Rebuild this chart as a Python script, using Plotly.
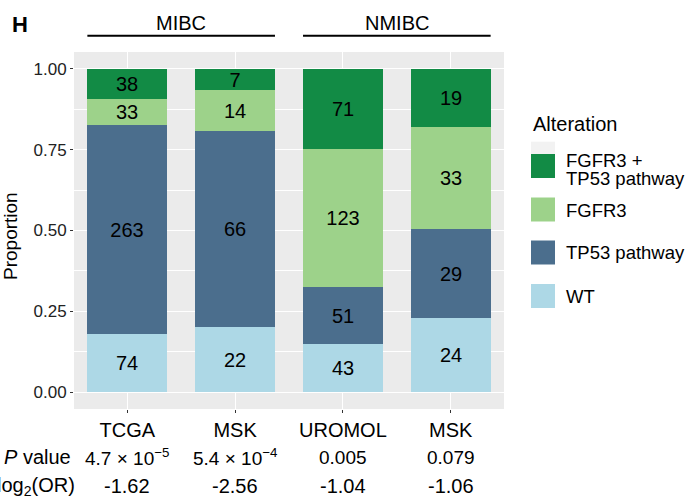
import plotly.graph_objects as go

# Cohorts (x axis) and the disease group each belongs to
cohorts = ["TCGA", "MSK", "UROMOL", "MSK"]
groups = ["MIBC", "NMIBC"]
group_members = [[0, 1], [2, 3]]

# Patient counts per alteration class, stacked bottom to top
alterations = ["WT", "TP53 pathway", "FGFR3", "FGFR3 + TP53 pathway"]
wt = [74, 22, 43, 24]
tp53 = [263, 66, 51, 29]
fgfr3 = [33, 14, 123, 33]
both = [38, 7, 71, 19]

# Association statistics shown beneath each cohort
p_values = ["4.7 × 10<sup>−5</sup>", "5.4 × 10<sup>−4</sup>", "0.005", "0.079"]
log2_or = ["-1.62", "-2.56", "-1.04", "-1.06"]

y_ticks = [0, 0.25, 0.5, 0.75, 1.0]
y_ticktext = ["0.00", "0.25", "0.50", "0.75", "1.00"]

colors = {
    "WT": "#ADD8E6",
    "TP53 pathway": "#4B6E8D",
    "FGFR3": "#9DD28A",
    "FGFR3 + TP53 pathway": "#128B45",
}

FONT = "Liberation Sans, Arial, Helvetica, sans-serif"
W, H = 685, 500
ML, MR, MT, MB = 74, 181, 52, 91
PW, PH = W - ML - MR, H - MT - MB


def px(x):
    return (x - ML) / PW


def py(y):
    return (H - MB - y) / PH


series = {"WT": wt, "TP53 pathway": tp53, "FGFR3": fgfr3, "FGFR3 + TP53 pathway": both}
totals = [sum(v) for v in zip(wt, tp53, fgfr3, both)]
xpos = list(range(len(cohorts)))
BAR_W = 0.74

fig = go.Figure()
for name in alterations:
    counts = series[name]
    fig.add_trace(go.Bar(
        x=xpos,
        y=[c / t for c, t in zip(counts, totals)],
        text=[str(c) for c in counts],
        width=BAR_W,
        name=name,
        marker=dict(color=colors[name], line=dict(width=0)),
        textposition="inside",
        insidetextanchor="middle",
        textangle=0,
        textfont=dict(family=FONT, size=20, color="black"),
        constraintext="none",
        cliponaxis=False,
        showlegend=False,
        hoverinfo="skip",
    ))

annotations = []
shapes = []

# Panel tag and group headers with bracket lines over the bars
annotations.append(dict(text="<b>H</b>", x=px(10), y=py(24), xref="paper", yref="paper",
                        xanchor="left", yanchor="middle", showarrow=False,
                        font=dict(family=FONT, size=22, color="black")))
for g, members in zip(groups, group_members):
    x0 = min(members) - BAR_W / 2
    x1 = max(members) + BAR_W / 2
    shapes.append(dict(type="line", xref="x", yref="paper", x0=x0, x1=x1,
                       y0=py(35.7), y1=py(35.7), line=dict(color="black", width=2)))
    annotations.append(dict(text=g, x=(x0 + x1) / 2, y=py(22.7), xref="x", yref="paper",
                            xanchor="center", yanchor="middle", showarrow=False,
                            font=dict(family=FONT, size=20, color="black")))

# Y axis title
annotations.append(dict(text="Proportion", x=px(11), y=py(236), xref="paper", yref="paper",
                        textangle=-90, xanchor="center", yanchor="middle", showarrow=False,
                        font=dict(family=FONT, size=19, color="black")))

# Statistics rows under the cohort labels
ROW_P, ROW_OR = 457, 486
annotations.append(dict(text="<i>P</i> value", x=px(73), y=py(ROW_P), xref="paper", yref="paper",
                        xanchor="right", yanchor="middle", showarrow=False,
                        font=dict(family=FONT, size=20, color="black")))
annotations.append(dict(text="log<sub>2</sub>(OR)", x=px(77), y=py(ROW_OR), xref="paper", yref="paper",
                        xanchor="right", yanchor="middle", showarrow=False,
                        font=dict(family=FONT, size=20, color="black")))
for i in xpos:
    annotations.append(dict(text=p_values[i], x=i, y=py(ROW_P), xref="x", yref="paper",
                            xanchor="center", yanchor="middle", showarrow=False,
                            font=dict(family=FONT, size=19, color="black")))
    annotations.append(dict(text=log2_or[i], x=i, y=py(ROW_OR), xref="x", yref="paper",
                            xanchor="center", yanchor="middle", showarrow=False,
                            font=dict(family=FONT, size=20, color="black")))

# Legend drawn as keys and labels to the right of the panel
annotations.append(dict(text="Alteration", x=px(531), y=py(124), xref="paper", yref="paper",
                        xanchor="left", yanchor="middle", showarrow=False,
                        font=dict(family=FONT, size=20, color="black")))
shapes.append(dict(type="rect", xref="paper", yref="paper", x0=px(531), x1=px(555),
                   y0=py(154), y1=py(141.7), fillcolor="#F2F2F2", line=dict(width=0)))
legend_items = [
    ("FGFR3 + TP53 pathway", 154, ["FGFR3 +", "TP53 pathway"], [160, 178]),
    ("FGFR3", 197.5, ["FGFR3"], [210]),
    ("TP53 pathway", 240.5, ["TP53 pathway"], [252]),
    ("WT", 284, ["WT"], [296]),
]
for name, top, lines, ys in legend_items:
    shapes.append(dict(type="rect", xref="paper", yref="paper", x0=px(531), x1=px(555),
                       y0=py(top + 24), y1=py(top), fillcolor=colors[name], line=dict(width=0)))
    for ln, yy in zip(lines, ys):
        annotations.append(dict(text=ln, x=px(564), y=py(yy), xref="paper", yref="paper",
                                xanchor="left", yanchor="middle", showarrow=False,
                                font=dict(family=FONT, size=18.5, color="black")))

fig.update_layout(
    width=W, height=H, autosize=False,
    margin=dict(l=ML, r=MR, t=MT, b=MB, pad=0),
    barmode="stack",
    bargap=0,
    paper_bgcolor="white",
    plot_bgcolor="#EBEBEB",
    uniformtext=dict(minsize=20, mode="show"),
    annotations=annotations,
    shapes=shapes,
    showlegend=False,
    font=dict(family=FONT, color="black"),
)
fig.update_xaxes(
    range=[-0.494, 3.494],
    tickmode="array", tickvals=xpos, ticktext=cohorts,
    tickfont=dict(family=FONT, size=20, color="black"),
    ticks="outside", ticklen=3, tickwidth=1, tickcolor="#333333",
    showgrid=True, gridcolor="white", gridwidth=1.4,
    zeroline=False, showline=False, fixedrange=True,
)
fig.update_yaxes(
    range=[-0.052, 1.052],
    tickmode="array", tickvals=y_ticks, ticktext=y_ticktext,
    tickfont=dict(family=FONT, size=17, color="#222222"),
    ticks="outside", ticklen=3, tickwidth=1, tickcolor="#333333",
    showgrid=True, gridcolor="white", gridwidth=1.4,
    minor=dict(tickvals=[0.125, 0.375, 0.625, 0.875], showgrid=True,
               gridcolor="white", gridwidth=0.7, ticks=""),
    zeroline=False, showline=False, fixedrange=True,
)

fig.write_html("out.html")
